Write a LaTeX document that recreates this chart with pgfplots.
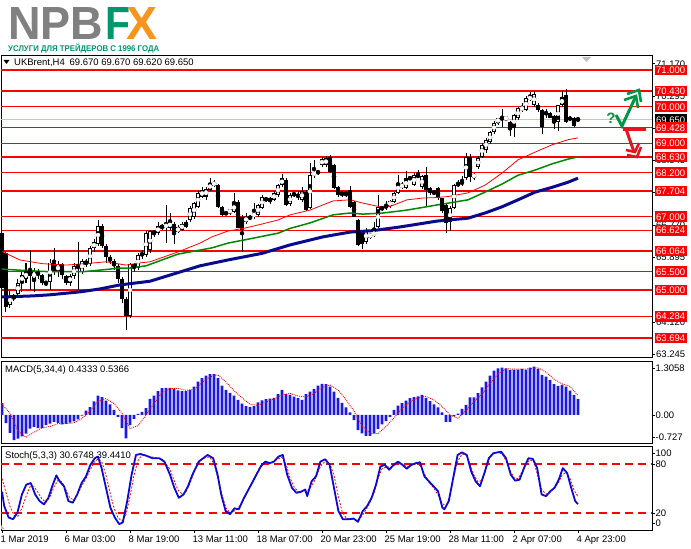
\documentclass[border=0pt]{standalone}
\usepackage{pgfplots}
\pgfplotsset{compat=1.18}
\usepackage{pgfplotstable}
\usepackage{fontspec}
\setmainfont{Liberation Sans}
\usepackage{graphicx}
\definecolor{npgray}{RGB}{128,128,128}
\definecolor{npgreen}{RGB}{0,150,110}
\definecolor{nporange}{RGB}{247,148,29}
\definecolor{mtred}{RGB}{255,0,0}
\definecolor{mtgreen}{RGB}{0,135,0}
\definecolor{mtnavy}{RGB}{10,10,140}
\definecolor{macdblue}{RGB}{25,25,225}
\definecolor{stblue}{RGB}{10,10,215}
\definecolor{arrgreen}{RGB}{0,150,70}
\definecolor{arrred}{RGB}{230,20,30}
\newcommand{\mtf}{\fontsize{9.5}{11}\selectfont}

\pgfplotstableread{
i O H L C
0 66.55 66.70 64.90 65.05
1 66.00 66.05 64.40 64.55
2 64.60 65.00 64.50 64.85
3 64.85 64.90 64.70 64.78
4 64.90 65.30 64.85 65.20
5 65.20 65.50 64.95 65.42
6 65.30 65.75 65.20 65.52
7 65.52 66.10 65.00 65.38
8 65.30 65.60 64.95 65.52
9 65.52 65.58 65.30 65.40
10 65.40 65.45 65.15 65.18
11 65.18 65.25 65.10 65.22
12 65.22 65.85 65.00 65.75
13 65.75 66.15 65.40 65.50
14 65.50 65.80 65.35 65.70
15 65.70 65.75 65.30 65.40
16 65.38 65.42 65.15 65.20
17 65.20 65.45 65.10 65.38
18 65.38 65.75 65.30 65.65
19 65.65 66.30 65.00 65.60
20 65.50 65.85 65.45 65.80
21 65.80 65.85 65.62 65.70
22 65.70 66.20 65.65 66.15
23 66.15 66.38 66.05 66.30
24 66.25 66.90 66.20 66.75
25 66.75 66.80 66.15 66.20
26 66.20 66.25 65.75 65.90
27 65.90 65.95 65.70 65.80
28 65.80 65.85 65.55 65.65
29 65.65 65.70 65.20 65.30
30 65.30 65.35 64.65 64.75
31 64.75 64.80 63.90 64.30
32 64.30 65.75 64.25 65.70
33 65.70 65.75 65.50 65.60
34 65.60 66.00 65.55 65.95
35 65.95 66.10 65.85 66.00
36 65.95 66.60 65.90 66.55
37 66.10 66.65 66.00 66.60
38 66.60 66.65 66.45 66.55
39 66.55 66.86 66.50 66.75
40 66.75 66.80 66.65 66.70
41 66.70 67.32 66.28 66.80
42 66.70 67.10 66.65 66.86
43 66.80 66.85 66.25 66.58
44 66.58 66.78 66.55 66.72
45 66.65 66.85 66.60 66.80
46 66.85 66.90 66.70 66.72
47 66.90 67.28 66.85 67.24
48 67.00 67.40 66.95 67.37
49 67.27 67.70 67.25 67.65
50 67.54 67.82 67.50 67.73
51 67.55 67.80 67.45 67.75
52 67.73 68.06 67.70 67.92
53 67.85 68.00 67.80 67.95
54 67.86 67.90 67.25 67.27
55 67.27 67.30 67.02 67.05
56 67.08 67.15 67.05 67.10
57 67.10 67.22 67.05 67.20
58 67.13 67.65 67.10 67.37
59 67.40 67.45 66.68 66.70
60 67.00 67.05 66.05 66.63
61 66.85 67.10 66.80 67.00
62 66.95 67.05 66.90 67.00
63 67.00 67.37 66.95 67.10
64 67.05 67.35 67.00 67.32
65 67.24 67.60 67.20 67.54
66 67.45 67.55 67.40 67.50
67 67.50 67.55 67.35 67.42
68 67.46 67.70 67.42 67.65
69 67.60 67.90 67.55 67.86
70 67.86 68.16 67.80 68.05
71 68.00 68.05 67.30 67.32
72 67.35 67.65 67.30 67.60
73 67.60 67.68 67.55 67.62
74 67.55 67.70 67.45 67.58
75 67.46 67.80 67.40 67.70
76 67.67 67.72 67.15 67.18
77 67.24 68.46 67.20 68.13
78 68.13 68.55 68.05 68.22
79 68.22 68.28 68.15 68.20
80 68.41 68.62 68.35 68.57
81 68.40 68.65 68.35 68.60
82 68.63 68.68 68.20 68.22
83 68.41 68.45 67.75 67.78
84 67.80 67.85 67.55 67.60
85 67.65 67.70 67.55 67.60
86 67.62 67.68 67.55 67.65
87 67.72 67.85 67.25 67.26
88 67.40 67.42 66.98 66.99
89 66.91 66.95 66.20 66.23
90 66.60 66.65 66.12 66.25
91 66.31 66.70 66.25 66.64
92 66.45 66.55 66.40 66.52
93 66.50 66.85 66.45 66.58
94 66.72 67.60 66.70 67.27
95 67.25 67.30 67.15 67.22
96 67.25 67.42 67.18 67.30
97 67.30 67.45 67.25 67.42
98 67.40 67.68 67.38 67.65
99 67.65 68.15 67.62 67.92
100 67.80 67.95 67.75 67.88
101 67.78 68.25 67.75 68.05
102 68.05 68.10 68.00 68.05
103 67.86 68.20 67.85 68.14
104 68.10 68.27 68.05 68.12
105 67.80 68.15 67.75 68.10
106 68.14 68.35 67.27 67.73
107 67.78 67.82 67.60 67.65
108 67.65 67.70 67.60 67.68
109 67.78 67.80 67.45 67.51
110 67.50 67.52 67.10 67.15
111 67.32 67.35 66.55 66.83
112 66.85 67.30 66.60 67.24
113 67.24 67.90 67.20 67.86
114 67.86 68.00 67.80 67.90
115 67.90 68.10 67.85 67.95
116 68.05 68.75 68.00 68.63
117 68.63 68.70 67.95 68.08
118 68.08 68.20 68.00 68.15
119 68.36 68.65 68.30 68.60
120 68.63 69.00 68.60 68.96
121 68.82 69.15 68.75 69.10
122 69.03 69.35 68.98 69.30
123 69.30 69.60 69.25 69.56
124 69.56 69.70 69.50 69.69
125 69.65 69.95 69.45 69.70
126 69.65 69.75 69.60 69.72
127 69.58 69.62 69.20 69.42
128 69.42 69.80 69.18 69.77
129 69.69 70.00 69.65 69.96
130 69.90 70.10 69.85 70.00
131 69.91 70.30 69.88 70.24
132 70.18 70.41 70.15 70.29
133 70.05 70.43 70.00 70.35
134 70.04 70.10 69.85 69.91
135 69.91 69.95 69.25 69.45
136 69.80 69.95 69.70 69.85
137 69.83 69.86 69.68 69.69
138 69.75 69.78 69.40 69.55
139 69.58 70.05 69.35 70.04
140 70.04 70.43 70.00 70.26
141 70.32 70.47 69.55 69.58
142 69.70 69.75 69.60 69.65
143 69.69 69.72 69.45 69.47
144 69.67 69.67 69.62 69.65
}\candles

\pgfplotstableread{
i v
0 0.33
1 -0.23
2 -0.50
3 -0.70
4 -0.66
5 -0.60
6 -0.52
7 -0.38
8 -0.33
9 -0.37
10 -0.37
11 -0.28
12 -0.24
13 -0.19
14 -0.22
15 -0.26
16 -0.25
17 -0.21
18 -0.18
19 -0.12
20 -0.02
21 0.12
22 0.22
23 0.38
24 0.54
25 0.50
26 0.40
27 0.30
28 0.14
29 -0.05
30 -0.37
31 -0.65
32 -0.28
33 -0.11
34 0.03
35 0.09
36 0.19
37 0.45
38 0.54
39 0.67
40 0.75
41 0.76
42 0.76
43 0.73
44 0.69
45 0.67
46 0.67
47 0.70
48 0.79
49 0.93
50 1.03
51 1.10
52 1.14
53 1.14
54 1.03
55 0.82
56 0.70
57 0.62
58 0.54
59 0.42
60 0.32
61 0.25
62 0.23
63 0.25
64 0.35
65 0.41
66 0.44
67 0.46
68 0.48
69 0.58
70 0.70
71 0.58
72 0.56
73 0.51
74 0.47
75 0.42
76 0.58
77 0.65
78 0.73
79 0.82
80 0.87
81 0.86
82 0.79
83 0.65
84 0.48
85 0.34
86 0.21
87 0.07
88 -0.14
89 -0.42
90 -0.51
91 -0.58
92 -0.58
93 -0.51
94 -0.39
95 -0.26
96 -0.17
97 -0.05
98 0.14
99 0.26
100 0.33
101 0.40
102 0.47
103 0.50
104 0.52
105 0.56
106 0.48
107 0.39
108 0.30
109 0.21
110 0.07
111 -0.19
112 -0.19
113 -0.03
114 0.04
115 0.17
116 0.28
117 0.49
118 0.49
119 0.61
120 0.77
121 0.93
122 1.10
123 1.24
124 1.30
125 1.32
126 1.30
127 1.26
128 1.26
129 1.27
130 1.29
131 1.27
132 1.32
133 1.35
134 1.29
135 1.12
136 1.07
137 0.98
138 0.86
139 0.81
140 0.84
141 0.79
142 0.68
143 0.56
144 0.45
}\macd

\pgfplotsset{
  mt/.style={scale only axis, width=651pt, xmin=-0.25, xmax=162.5,
    axis line style={black, line width=0.8pt},
    xtick=\empty, ytick pos=right, yticklabel pos=right,
    tick align=outside, major tick length=3pt,
    tick style={black, line width=0.6pt},
    yticklabel style={font=\mtf, anchor=west, inner sep=0.5pt, xshift=0pt},
  },
}
\tikzset{
  lvl/.style={fill=mtred, text=white, anchor=west, font=\mtf, inner xsep=1.5pt, inner ysep=0pt, minimum height=10.5pt, text height=7pt, text depth=0pt, xshift=2.5pt},
  glab/.style={text=black, anchor=west, font=\mtf, inner sep=0.5pt, xshift=3.5pt},
}

\begin{document}
\begin{tikzpicture}[x=1pt,y=1pt]
\useasboundingbox (0,0) rectangle (691,549);

% ---------- logo ----------
\node[anchor=north west, inner sep=0, text=npgray] at (8,542) {\resizebox{95pt}{32pt}{\bfseries NPB}};
\node[anchor=north west, inner sep=0, text=npgreen] at (105,542) {\resizebox{25pt}{32pt}{\bfseries F}};
\node[anchor=north west, inner sep=0, text=nporange] at (126,542) {\resizebox{31pt}{32pt}{\bfseries X}};
\node[anchor=north west, inner sep=0, text=npgreen] at (8,505.5) {\resizebox{151pt}{7.5pt}{\bfseries УСЛУГИ ДЛЯ ТРЕЙДЕРОВ С 1996 ГОДА}};

% ---------- main price panel ----------
\begin{axis}[mt, at={(1pt,494pt)}, anchor=north west, height=302.5pt,
  ymin=63.16, ymax=71.41, clip=false,
  ytick={71.170,70.295,69.420,68.545,67.670,66.770,65.895,64.120,63.245},
  yticklabels=\empty]
  % levels
  \pgfplotsinvokeforeach{71.000,70.430,70.000,69.428,69.000,68.630,68.200,67.704,67.000,66.624,66.064,65.500,65.000,64.284,63.694}{
    \addplot[mtred, line width=1.5pt, forget plot] coordinates {(-0.25,#1) (162.5,#1)};
  }
  \addplot[gray!45, line width=0.8pt, forget plot] coordinates {(-0.25,69.65) (162.5,69.65)};
  % wicks
  \addplot[black, only marks, mark=none, forget plot,
    error bars/.cd, y dir=both, y explicit, error mark=none,
    error bar style={black, line width=1pt}]
    table[x=i, y expr={(\thisrow{H}+\thisrow{L})/2}, y error expr={(\thisrow{H}-\thisrow{L})/2}] {\candles};
  % bodies
  \addplot[black, only marks, mark=none, forget plot,
    error bars/.cd, y dir=both, y explicit, error mark=none,
    error bar style={black, line width=3.2pt}]
    table[x=i, y expr={(\thisrow{O}+\thisrow{C})/2}, y error expr={max(abs(\thisrow{C}-\thisrow{O})/2,0.014)}] {\candles};
  % hollow bull bodies
  \addplot[white, only marks, mark=none, forget plot,
    restrict expr to domain={\thisrow{C}-\thisrow{O}}{0.06:100},
    error bars/.cd, y dir=both, y explicit, error mark=none,
    error bar style={white, line width=1.6pt}]
    table[x=i, y expr={(\thisrow{O}+\thisrow{C})/2}, y error expr={(\thisrow{C}-\thisrow{O})/2-0.026}] {\candles};
  % moving averages
  \addplot[mtnavy, line width=3pt, forget plot] coordinates {
    (0,64.81) (7.75,64.84) (12,64.87) (19.5,64.95) (24.5,65.03) (29.5,65.14) (37,65.24)
    (49.5,65.66) (56.5,65.82) (65,66.0) (72,66.23) (80.25,66.45) (87,66.58) (92.75,66.62)
    (99.5,66.72) (108.75,66.88) (116.5,66.96) (120.75,67.10) (125,67.27) (129,67.46)
    (133.25,67.67) (137.5,67.80) (141.5,67.94) (144,68.05)};
  \addplot[mtgreen, line width=1.5pt, forget plot] coordinates {
    (0,65.57) (7.75,65.52) (12,65.50) (16.25,65.50) (20.25,65.50) (27,65.57) (28.75,65.60)
    (32,65.60) (36,65.66) (44,65.98) (52.5,66.15) (56.5,66.28) (60.75,66.37) (69,66.55)
    (72,66.68) (77,66.83) (82.75,67.05) (87,67.10) (90.25,67.07) (95.25,67.10)
    (101.25,67.18) (108.75,67.32) (116.5,67.46) (120.75,67.67) (125,67.89) (129,68.13)
    (133.25,68.27) (137.5,68.44) (141.5,68.57) (144,68.63)};
  \addplot[mtred, line width=0.8pt, forget plot] coordinates {
    (0,66.05) (4.5,65.82) (10,65.72) (16,65.68) (21,65.72) (26,65.77) (31,65.68) (34.5,65.74)
    (37,65.77) (44,66.04) (49.5,66.28) (52.5,66.45) (56.5,66.61) (60.75,66.69) (65,66.80)
    (69,66.91) (72,67.05) (77,67.18) (82.75,67.43) (87,67.46) (90.25,67.37) (94.5,67.27)
    (97,67.28) (101.25,67.46) (105.25,67.51) (108.25,67.52) (111.5,67.55) (116.5,67.65)
    (120.75,67.86) (125,68.19) (129,68.55) (133.25,68.76) (137.5,68.96) (141.5,69.10) (144,69.15)};
  % right scale labels
  \node[glab] at (axis cs:162.5,71.170) {71.170};
  \node[glab] at (axis cs:162.5,70.295) {70.295};
  \node[glab] at (axis cs:162.5,69.420) {69.420};
  \node[glab] at (axis cs:162.5,68.545) {68.545};
  \node[glab] at (axis cs:162.5,67.670) {67.670};
  \node[glab] at (axis cs:162.5,66.770) {66.770};
  \node[glab] at (axis cs:162.5,65.895) {65.895};
  \node[glab] at (axis cs:162.5,64.120) {64.120};
  \node[glab] at (axis cs:162.5,63.245) {63.245};
  \node[lvl] at (axis cs:162.5,71.000) {71.000};
  \node[lvl] at (axis cs:162.5,70.430) {70.430};
  \node[lvl] at (axis cs:162.5,70.000) {70.000};
  \node[lvl, fill=black] at (axis cs:162.5,69.650) {69.650};
  \node[lvl] at (axis cs:162.5,69.428) {69.428};
  \node[lvl] at (axis cs:162.5,69.000) {69.000};
  \node[lvl] at (axis cs:162.5,68.630) {68.630};
  \node[lvl] at (axis cs:162.5,68.200) {68.200};
  \node[lvl] at (axis cs:162.5,67.704) {67.704};
  \node[lvl] at (axis cs:162.5,67.000) {67.000};
  \node[lvl] at (axis cs:162.5,66.624) {66.624};
  \node[lvl] at (axis cs:162.5,66.064) {66.064};
  \node[lvl] at (axis cs:162.5,65.500) {65.500};
  \node[lvl] at (axis cs:162.5,65.000) {65.000};
  \node[lvl] at (axis cs:162.5,64.284) {64.284};
  \node[lvl] at (axis cs:162.5,63.694) {63.694};
\end{axis}

% header text
\fill[black] (3.5,489) -- (9.5,489) -- (6.5,485) -- cycle;
\node[anchor=west, inner sep=0, font=\mtf] at (14,486.5) {UKBrent,H4\enspace 69.670 69.670 69.620 69.650};
\fill[gray!50] (582,492) -- (591,492) -- (586.5,487) -- cycle;

% ---------- MACD panel ----------
\begin{axis}[mt, at={(1pt,188pt)}, anchor=north west, height=82pt,
  ymin=-0.782, ymax=1.508,
  ytick={1.3058,0,-0.61}, yticklabels={1.3058,0.00,-0.727}]
  \addplot[ybar, bar width=2.6pt, fill=macdblue, draw=none, forget plot] table[x=i, y=v] {\macd};
  \addplot[mtred, densely dotted, line width=0.9pt, forget plot] coordinates {
    (0,0.30) (2,0.05) (4,-0.45) (6,-0.62) (8,-0.48) (10,-0.36) (12,-0.32) (14,-0.24) (16,-0.24)
    (18,-0.22) (20,-0.10) (22,0.12) (24,0.38) (26,0.46) (28,0.32) (30,0.05) (32,-0.38) (34,-0.30)
    (36,0.00) (38,0.32) (40,0.62) (42,0.74) (44,0.74) (46,0.69) (48,0.71) (50,0.90) (52,1.07)
    (54,1.12) (56,0.92) (58,0.68) (60,0.48) (62,0.30) (64,0.27) (66,0.36) (68,0.45) (70,0.56)
    (72,0.60) (74,0.53) (76,0.50) (78,0.60) (80,0.77) (82,0.84) (84,0.70) (86,0.43) (88,0.11)
    (90,-0.30) (92,-0.52) (94,-0.52) (96,-0.32) (98,-0.08) (100,0.18) (102,0.37) (104,0.48)
    (106,0.52) (108,0.42) (110,0.24) (112,0.00) (114,-0.09) (116,0.12) (118,0.38) (120,0.58)
    (122,0.88) (124,1.15) (126,1.29) (128,1.28) (130,1.28) (132,1.29) (134,1.32) (136,1.20)
    (138,1.00) (140,0.87) (142,0.80) (144,0.54)};
  \node[anchor=north west, inner sep=0, font=\mtf] at (rel axis cs:0,1) [xshift=4pt, yshift=-4.5pt] {MACD(5,34,4) 0.4333 0.5366};
\end{axis}

% ---------- Stochastic panel ----------
\begin{axis}[mt, at={(1pt,102.3pt)}, anchor=north west, height=83.3pt,
  ymin=-0.9, ymax=101,
  ytick={92.9,80,20,7.1}, yticklabels={100,80,20,0},
  xtick={0,16,32,48,64,80,96,112,128,144}, xtick pos=bottom,
  xticklabels={1 Mar 2019,6 Mar 03:00,8 Mar 19:00,13 Mar 11:00,18 Mar 07:00,20 Mar 23:00,25 Mar 19:00,28 Mar 11:00,2 Apr 07:00,4 Apr 23:00},
  xticklabel style={font=\mtf, anchor=north west, inner sep=0pt, xshift=-1.5pt, yshift=-2.5pt}]
  \addplot[mtred, line width=1.3pt, dash pattern=on 8pt off 5pt, forget plot] coordinates {(-0.25,80) (162.5,80)};
  \addplot[mtred, line width=1.3pt, dash pattern=on 8pt off 5pt, forget plot] coordinates {(-0.25,20) (162.5,20)};
  \addplot[mtred, line width=0.8pt, dash pattern=on 2pt off 1.5pt, forget plot] coordinates {
    (0,62) (1,45) (2,28) (3,17) (4,16) (5,26) (6,40) (7,52) (8,52) (9,45) (10,37) (11,33) (12,40)
    (13,52) (14,60) (15,58) (16,48) (17,38) (18,36) (19,44) (20,54) (21,62) (22,72) (23,82) (24,86)
    (25,82) (26,66) (27,45) (28,26) (29,14) (30,10) (31,18) (32,40) (33,66) (34,84) (35,91) (36,90)
    (38,88) (40,86) (41,80) (42,73) (43,60) (44,48) (45,43) (46,46) (47,56) (48,70) (49,80) (50,86)
    (51,88) (52,88) (53,80) (54,62) (55,42) (56,26) (57,20) (58,22) (59,26) (60,32) (61,42) (62,52)
    (63,62) (64,72) (65,80) (66,82) (67,82) (68,83) (69,86) (70,88) (71,80) (72,63) (73,52) (74,46)
    (75,46) (76,46) (77,50) (78,58) (79,70) (80,80) (81,83) (82,80) (83,66) (84,42) (85,22) (86,14)
    (87,12) (88,12) (89,12) (90,16) (91,24) (92,33) (93,44) (94,62) (95,74) (96,76) (97,76) (98,78)
    (99,80) (100,80) (101,77) (102,77) (103,79) (104,81) (105,74) (106,64) (107,56) (108,50) (109,42)
    (110,32) (111,28) (112,42) (113,66) (114,84) (115,92) (116,91) (117,80) (118,66) (119,58) (120,60)
    (121,74) (122,88) (123,93) (124,94) (125,92) (126,84) (127,72) (128,63) (129,62) (130,70) (131,80)
    (132,85) (133,82) (134,64) (135,48) (136,43) (137,45) (138,50) (139,56) (140,66) (141,70) (142,62)
    (143,48) (144,39.4)};
  \addplot[stblue, line width=1.8pt, line join=round, forget plot] coordinates {
    (0,46) (0.55,28.5) (1.66,14.4) (2.77,12.3) (3.87,20.4) (4.98,42.6) (6.08,54.6) (7.19,56.6)
    (8.3,42.6) (9.4,34.5) (10.5,30.5) (11.6,38.5) (12.7,54.6) (13.6,65.9) (14.4,58.7) (15.5,52.6)
    (16.6,34.5) (17.7,32.5) (18.8,42.6) (19.9,56.6) (21.0,64.7) (22.1,78.8) (23.2,86.9) (24.0,88.9)
    (24.9,74.8) (26.0,50.6) (27.1,26.4) (28.2,14.4) (29.3,6.3) (30.2,8.3) (31.3,34.5) (32.4,66.7)
    (33.5,90.9) (34.6,92.1) (36.0,90.1) (37.6,86.9) (39.3,86.9) (40.6,82.8) (42.0,66.7) (43.1,50.6)
    (44.2,38.5) (45.4,42.6) (46.5,52.6) (47.6,66.7) (49.2,82.8) (50.3,86.9) (51.4,90.9) (52.8,86.9)
    (53.9,66.7) (54.8,42.6) (55.9,22.4) (57.0,18.4) (58.1,25.6) (59.2,24.4) (60.3,36.5) (61.4,46.6)
    (62.5,56.6) (63.6,66.7) (64.7,76.8) (65.8,82.8) (66.9,80.8) (68.0,82.8) (69.1,88.9) (70.2,90.9)
    (71.3,66.7) (72.5,50.6) (73.6,44.6) (74.7,45.8) (75.8,48.6) (76.3,40.5) (77.4,58.7) (78.5,64.7)
    (79.6,82.8) (80.8,85.6) (81.9,78.8) (83.0,50.6) (84.1,22.4) (85.2,12.3) (86.8,12.3) (87.9,13.1)
    (89.0,9.1) (90.2,22.4) (91.3,28.5) (92.4,38.5) (93.5,54.6) (94.6,76.8) (95.7,78.8) (96.8,72.8)
    (97.9,78.8) (99.0,82.8) (100.1,78.8) (101.2,74.0) (102.3,78.8) (103.4,80.8) (104.5,82.0)
    (105.6,64.7) (106.7,58.7) (107.9,52.6) (109.0,46.6) (110.1,26.4) (110.6,24.4) (111.7,34.5)
    (112.8,62.7) (113.9,90.9) (115.0,94.1) (116.2,90.9) (117.3,70.7) (118.4,58.7) (119.5,52.6)
    (120.6,68.7) (121.7,86.9) (122.8,92.9) (123.9,94.1) (124.8,94.9) (126.0,86.9) (127.2,66.7)
    (128.3,59.5) (129.4,60.7) (130.5,74.8) (131.6,86.9) (132.7,86.1) (133.8,74.8) (134.9,42.6)
    (136.0,40.5) (137.1,46.6) (138.1,50.6) (139.2,60.7) (140.2,74.8) (141.3,68.7) (142.3,50.6)
    (143.3,34.5) (144,30.7)};
  \node[anchor=north west, inner sep=0, font=\mtf] at (rel axis cs:0,1) [xshift=4pt, yshift=-4.5pt] {Stoch(5,3,3) 30.6748 39.4410};
\end{axis}
\fill[gray!50] (1,19.5) -- (5,19.5) -- (1,24) -- cycle;

% ---------- decorative arrows ----------
\node[text=arrgreen, font=\fontsize{15}{16}\selectfont\bfseries, inner sep=0] at (611,431) {?};
\draw[arrgreen, line width=3pt, line join=miter, line cap=butt] (616,434) -- (622,423) -- (636,453);
\draw[arrgreen, line width=2.6pt, line join=miter] (627,455) -- (639,459) -- (641,447);
\draw[arrgreen, line width=2.6pt, line join=miter] (624,449) -- (636,453) -- (638,441);
\draw[arrred, line width=3.5pt] (623,420) -- (646,420);
\draw[arrred, line width=3pt, line join=miter] (626,420) -- (634,397);
\draw[arrred, line width=2.6pt, line join=miter] (627,394) -- (637,392) -- (641,402);
\draw[arrred, line width=2.6pt, line join=miter] (626,399) -- (635,397) -- (639,406);
\end{tikzpicture}
\end{document}
